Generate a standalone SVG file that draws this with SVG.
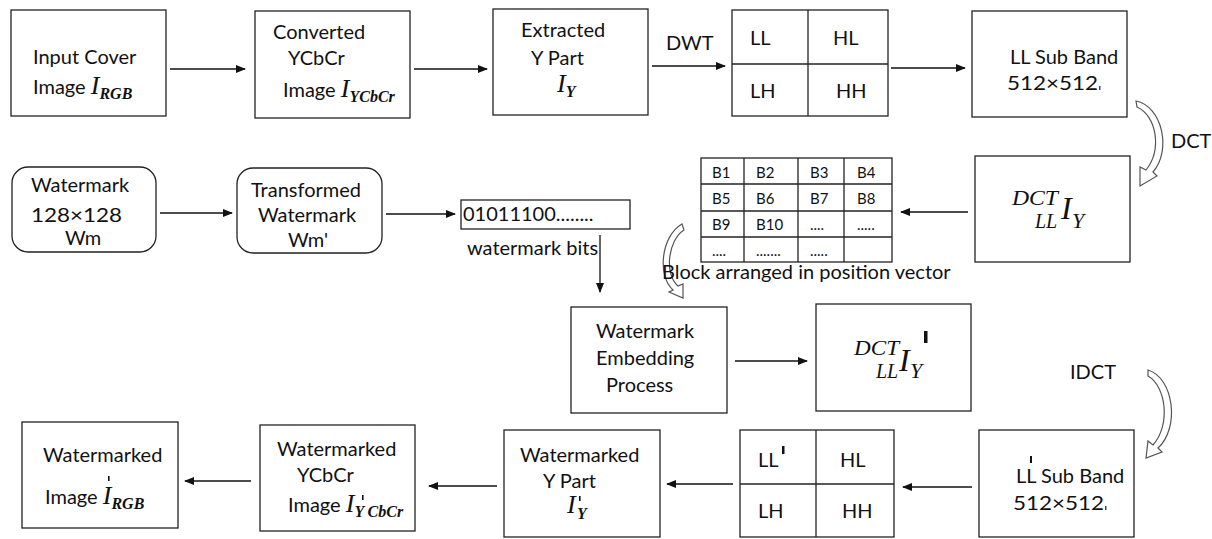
<svg xmlns="http://www.w3.org/2000/svg" width="1212" height="539" viewBox="0 0 1212 539">
<style>
.box{fill:#fff;stroke:#222;stroke-width:1.3}
.t{font-family:Lato,"Liberation Sans",sans-serif;font-size:20px;fill:#111}
.s{font-family:Lato,"Liberation Sans",sans-serif;font-size:15px;fill:#111}
.m{font-family:"Liberation Serif",serif;font-style:italic;fill:#111}
.c{stroke:#111;stroke-width:1.3;fill:none;marker-end:url(#ah)}
.g{fill:none;stroke:#222;stroke-width:1.3}
.cv{fill:#fff;stroke:#555;stroke-width:1.2}
</style>
<defs>
<marker id="ah" markerWidth="10" markerHeight="8" refX="9" refY="4" orient="auto" markerUnits="userSpaceOnUse">
<path d="M0,0 L10,4 L0,8 Z" fill="#111"/>
</marker>
</defs>
<rect width="1212" height="539" fill="#fff"/>

<g id="connectors">
<line class="c" x1="170" y1="69" x2="245" y2="69"/>
<line class="c" x1="414" y1="69" x2="487" y2="69"/>
<line class="c" x1="652" y1="66" x2="725" y2="66"/>
<line class="c" x1="891" y1="68" x2="965" y2="68"/>
<line class="c" x1="968" y1="212" x2="901" y2="212"/>
<line class="c" x1="160" y1="213" x2="232" y2="213"/>
<line class="c" x1="386" y1="214" x2="455" y2="214"/>
<line class="c" x1="600" y1="235" x2="600" y2="292"/>
<line class="c" x1="735" y1="361" x2="807" y2="361"/>
<line class="c" x1="972" y1="487" x2="903" y2="487"/>
<line class="c" x1="733" y1="484" x2="667" y2="484"/>
<line class="c" x1="497" y1="486" x2="429" y2="486"/>
<line class="c" x1="251" y1="481" x2="185" y2="481"/>
<path class="cv" d="M1136,101 C1162,106 1172,150 1153,172 L1157,176 L1140,186 L1140,167 L1146,170 C1162,150 1157,116 1137,107 Z"/>
<path class="cv" d="M1148,370 C1174,378 1180,428 1158,448 L1162,452 L1146,458 L1148,441 L1153,445 C1171,425 1166,386 1148,376 Z"/>
<path class="cv" d="M682,224 C661,236 657,276 673,290 L669,292 L683,298 L683,284 L678,286 C664,274 668,240 684,230 Z"/>
<text class="t" x="666" y="50">DWT</text>
<text class="t" x="1171" y="148">DCT</text>
<text class="t" x="1070" y="379">IDCT</text>
</g>

<g id="input">
<rect class="box" x="11" y="10" width="155" height="106"/>
<text class="t" x="33" y="64">Input Cover</text>
<text class="t" x="33" y="94">Image <tspan class="m" font-size="26">I</tspan><tspan class="m" font-size="16" font-weight="bold" dy="5">RGB</tspan></text>
</g>

<g id="ycbcr">
<rect class="box" x="255" y="11" width="155" height="107"/>
<text class="t" x="273" y="39">Converted</text>
<text class="t" x="288" y="65">YCbCr</text>
<text class="t" x="283" y="97">Image <tspan class="m" font-size="26">I</tspan><tspan class="m" font-size="16" font-weight="bold" dy="5">YCbCr</tspan></text>
</g>

<g id="ypart">
<rect class="box" x="493" y="9" width="155" height="106"/>
<text class="t" x="521" y="37">Extracted</text>
<text class="t" x="531" y="65">Y Part</text>
<text class="m" x="557" y="92" font-size="26">I<tspan font-size="16" font-weight="bold" dy="5">Y</tspan></text>
</g>

<g id="dwt">
<rect class="box" x="732" y="10" width="156" height="106"/>
<line class="g" x1="808" y1="10" x2="808" y2="116"/>
<line class="g" x1="732" y1="64" x2="888" y2="64"/>
<text class="t" x="750" y="45">LL</text>
<text class="t" x="833" y="45">HL</text>
<text class="t" x="750" y="98">LH</text>
<text class="t" x="836" y="98">HH</text>
</g>

<g id="llband">
<rect class="box" x="972" y="11" width="155" height="106"/>
<text class="t" x="1010" y="64">LL Sub Band</text>
<text class="t" x="1007" y="90" textLength="91" lengthAdjust="spacingAndGlyphs">512×512</text>
<rect x="1099" y="86" width="1.5" height="4" fill="#446"/>
</g>

<g id="dctll">
<rect class="box" x="975" y="156" width="155" height="106"/>
<text class="m" x="1012" y="205" font-size="20" textLength="46" lengthAdjust="spacingAndGlyphs">DCT</text>
<text class="m" x="1035" y="228" font-size="20">LL</text>
<text class="m" x="1061" y="219" font-size="32">I</text>
<text class="m" x="1072" y="228" font-size="22">Y</text>
</g>

<g id="watermark">
<rect class="box" x="12" y="167" width="144" height="85" rx="16"/>
<text class="t" x="31" y="192">Watermark</text>
<text class="t" x="31" y="222" textLength="91" lengthAdjust="spacingAndGlyphs">128×128</text>
<text class="t" x="65" y="245">Wm</text>
</g>

<g id="transformed">
<rect class="box" x="237" y="168" width="145" height="85" rx="16"/>
<text class="t" x="251" y="197">Transformed</text>
<text class="t" x="258" y="222">Watermark</text>
<text class="t" x="288" y="247">Wm'</text>
</g>

<g id="bits">
<rect class="box" x="461" y="200" width="169" height="29"/>
<text class="t" x="463" y="221">01011100........</text>
<text class="t" x="467" y="255">watermark bits</text>
</g>

<g id="blocks">
<rect class="box" x="701" y="158" width="191" height="104"/>
<line class="g" x1="744" y1="158" x2="744" y2="262"/>
<line class="g" x1="798" y1="158" x2="798" y2="262"/>
<line class="g" x1="844" y1="158" x2="844" y2="262"/>
<line class="g" x1="701" y1="184" x2="892" y2="184"/>
<line class="g" x1="701" y1="211" x2="892" y2="211"/>
<line class="g" x1="701" y1="237" x2="892" y2="237"/>
<text class="s" x="712" y="178">B1</text><text class="s" x="756" y="178">B2</text><text class="s" x="810" y="178">B3</text><text class="s" x="857" y="178">B4</text>
<text class="s" x="712" y="204">B5</text><text class="s" x="756" y="204">B6</text><text class="s" x="810" y="204">B7</text><text class="s" x="857" y="204">B8</text>
<text class="s" x="712" y="230">B9</text><text class="s" x="756" y="230">B10</text><text class="s" x="810" y="230">....</text><text class="s" x="857" y="230">.....</text>
<text class="s" x="712" y="256">....</text><text class="s" x="756" y="256">.......</text><text class="s" x="810" y="256">.....</text>
<text class="t" x="662" y="279">Block arranged in position vector</text>
</g>

<g id="embedding">
<rect class="box" x="571" y="307" width="156" height="106"/>
<text class="t" x="596" y="338">Watermark</text>
<text class="t" x="596" y="365">Embedding</text>
<text class="t" x="606" y="392">Process</text>
</g>

<g id="dctllprime">
<rect class="box" x="816" y="304" width="155" height="107"/>
<text class="m" x="854" y="355" font-size="20" textLength="45" lengthAdjust="spacingAndGlyphs">DCT</text>
<text class="m" x="876" y="378" font-size="20">LL</text>
<text class="m" x="899" y="371" font-size="32">I</text>
<text class="m" x="910" y="378" font-size="22">Y</text>
<rect x="924" y="331" width="3.5" height="12" fill="#111"/>
</g>

<g id="llbandprime">
<rect class="box" x="979" y="430" width="155" height="107"/>
<rect x="1030" y="456" width="2" height="7" fill="#111"/>
<text class="t" x="1016" y="483">LL Sub Band</text>
<text class="t" x="1013" y="510" textLength="91" lengthAdjust="spacingAndGlyphs">512×512</text>
<rect x="1105" y="506" width="1.5" height="4" fill="#446"/>
</g>

<g id="idwt">
<rect class="box" x="740" y="430" width="154" height="107"/>
<line class="g" x1="816" y1="430" x2="816" y2="537"/>
<line class="g" x1="740" y1="484" x2="894" y2="484"/>
<text class="t" x="758" y="467">LL</text>
<rect x="782" y="446" width="2.5" height="8" fill="#111"/>
<text class="t" x="840" y="467">HL</text>
<text class="t" x="758" y="518">LH</text>
<text class="t" x="842" y="518">HH</text>
</g>

<g id="wmypart">
<rect class="box" x="504" y="430" width="156" height="107"/>
<text class="t" x="520" y="462">Watermarked</text>
<text class="t" x="543" y="488">Y Part</text>
<text class="m" x="567" y="513" font-size="26">I</text>
<text class="m" x="577" y="519" font-size="16" font-weight="bold">Y</text>
<rect x="579" y="496" width="1.6" height="5" fill="#111"/>
</g>

<g id="wmycbcr">
<rect class="box" x="260" y="425" width="155" height="106"/>
<text class="t" x="277" y="456">Watermarked</text>
<text class="t" x="297" y="482">YCbCr</text>
<text class="t" x="288" y="512">Image <tspan class="m" font-size="26">I</tspan><tspan class="m" font-size="16" font-weight="bold" dy="5">Y CbCr</tspan></text>
<rect x="362" y="495" width="1.6" height="5" fill="#111"/>
</g>

<g id="wmimage">
<rect class="box" x="22" y="422" width="156" height="106"/>
<text class="t" x="43" y="462">Watermarked</text>
<text class="t" x="45" y="504">Image <tspan class="m" font-size="26">I</tspan><tspan class="m" font-size="16" font-weight="bold" dy="5">RGB</tspan></text>
<rect x="108" y="476" width="1.6" height="5" fill="#111"/>
</g>
</svg>
